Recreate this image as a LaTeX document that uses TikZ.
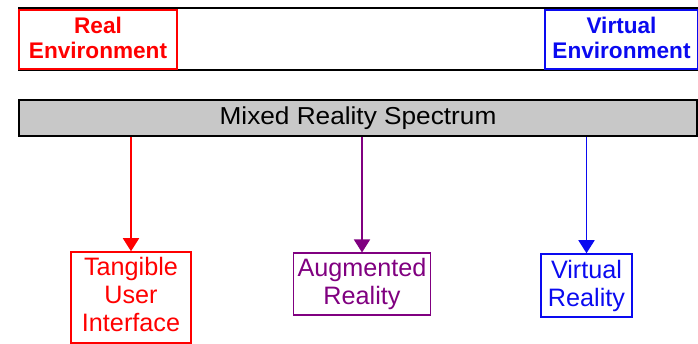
\documentclass[tikz,border=0pt]{standalone}
\usepackage{fontspec}
\setmainfont{Liberation Sans}
\usetikzlibrary{arrows.meta}
\definecolor{mrred}{RGB}{255,0,0}
\definecolor{mrblue}{RGB}{10,10,240}
\definecolor{mrpurple}{RGB}{128,0,128}
\definecolor{mrgray}{RGB}{200,200,200}
% centred lines, shifted vertically without changing the reported box size
\newcommand{\stacklines}[2][0pt]{\raisebox{#1}[\height][\depth]{\begin{tabular}{@{}c@{}}#2\end{tabular}}}
\tikzset{
  envbox/.style={draw, line width=2.5pt, inner sep=0pt, align=center,
    font=\bfseries\fontsize{22.6}{25}\selectfont},
  kindbox/.style={draw, line width=1.5pt, inner sep=0pt, align=center,
    font=\fontsize{25.2}{28}\selectfont},
  rule/.style={line width=2pt, black},
  pointer/.style={line width=1.7pt, -{Triangle[width=16pt,length=13pt]}},
}
\begin{document}
\begin{tikzpicture}[x=1pt, y=-1pt]
\useasboundingbox (0,0) rectangle (698,344);

% environment band framed by two rules
\coordinate (topL) at (18,8);
\coordinate (topR) at (698,8);
\coordinate (botL) at (18,70);
\coordinate (botR) at (698,70);
\draw[rule] (topL) -- (topR);
\draw[rule] (botL) -- (botR);

\node[envbox, mrred, minimum width=158pt, minimum height=59pt] (realenv)
  at (98,39.5) {\stacklines[-2pt]{Real\\Environment}};
\node[envbox, mrblue, minimum width=153pt, minimum height=59pt] (virtenv)
  at (621.5,39.5) {\stacklines[-2pt]{Virtual\\Environment}};

% spectrum bar
\node[draw, rule, fill=mrgray, minimum width=678pt, minimum height=36pt,
  inner sep=0pt] (bar) at (358,118)
  {\fontsize{24.5}{26}\selectfont\scalebox{1.07}[1]{Mixed Reality Spectrum}};

% kinds of mixed reality
\node[kindbox, mrred, minimum width=120pt, minimum height=91pt] (tui)
  at (131,297.5) {\stacklines{Tangible\\User\\Interface}};
\node[kindbox, mrpurple, minimum width=137pt, minimum height=61.5pt] (ar)
  at (362,284) {Augmented\\Reality};
\node[kindbox, mrblue, minimum width=91pt, minimum height=63pt] (vr)
  at (586.5,285.5) {Virtual\\Reality};

\draw[pointer, mrred] (tui.north |- bar.south) -- (tui.north);
\draw[pointer, mrpurple] (ar.north |- bar.south) -- (ar.north);
\draw[pointer, mrblue] (vr.north |- bar.south) -- (vr.north);
\end{tikzpicture}
\end{document}
